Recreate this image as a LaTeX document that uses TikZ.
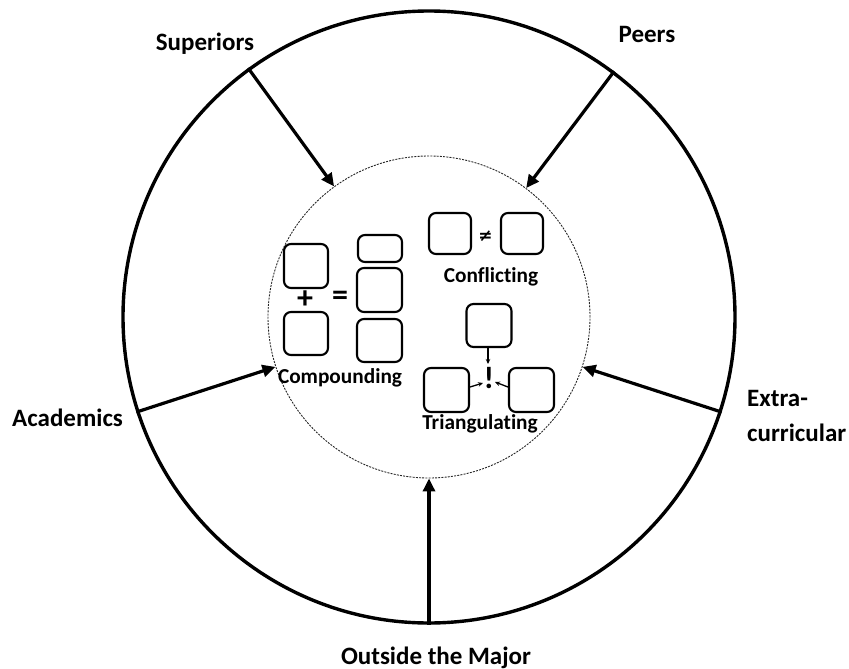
\documentclass[tikz,border=0pt]{standalone}
\usepackage{fontspec}
\setmainfont[Ligatures=NoCommon]{Carlito}
\newfontfamily\djv{DejaVu Sans}
\usetikzlibrary{arrows.meta,calc}
\begin{document}
\begin{tikzpicture}[x=1pt,y=-1pt,
  ring/.style={circle, draw, line width=3.4pt, inner sep=0pt, minimum size=612pt},
  core/.style={circle, draw=black!85, dash pattern=on 2pt off 1.2pt, line width=0.9pt, inner sep=0pt, minimum size=322pt},
  feed/.style={line width=3.2pt, -{Triangle[length=13pt,width=12pt]}},
  srcbox/.style={draw, line width=2.1pt, rounded corners=7pt, inner sep=0pt, minimum width=44pt, minimum height=44pt},
  lbl/.style={font=\fontsize{25}{35}\selectfont\bfseries, inner sep=0pt},
  ilbl/.style={font=\fontsize{21.3}{24}\selectfont\bfseries, inner sep=0pt},
  sym/.style={font=\fontsize{32}{32}\selectfont\bfseries, inner sep=0pt},
  tinyarrow/.style={line width=1.3pt, -{Stealth[length=5pt,width=4.5pt]}}
]
\useasboundingbox (0,0) rectangle (849,669);

% circles
\node[ring] (outer) at (429,317) {};
\node[core] (inner) at (429,317) {};

% feeding arrows
\draw[feed] (outer.126) -- (inner.126);
\draw[feed] (outer.53.5) -- (inner.53.5);
\draw[feed] (outer.198.5) -- (inner.198.5);
\draw[feed] (outer.-18) -- (inner.-18);
\draw[feed] (outer.270) -- (inner.270);

% outer labels
\node[lbl, anchor=base] (sup) at (205,51) {Superiors};
\node[lbl, anchor=base] (peers) at (647,43) {Peers};
\node[lbl, anchor=base west] (acad) at (12,426) {Academics};
\node[lbl, anchor=base west, align=left] (extra) at (747,441) {Extra-\\curricular};
\node[lbl, anchor=base] (outside) at (436,664) {Outside the Major};

% compounding
\node[srcbox] (cl1) at (306,266) {};
\node[srcbox, minimum height=43pt] (cl2) at (306,333.5) {};
\node[srcbox, minimum height=27pt] (cr1) at (380,248.5) {};
\node[srcbox, minimum width=45pt] (cr2) at (379.5,290) {};
\node[srcbox, minimum width=45pt, minimum height=43pt] (cr3) at (379.5,340.5) {};
\node[sym] (plus) at (305,300) {+};
\node[sym] (eq) at (340,298) {=};
\node[ilbl, anchor=base] (comp) at (340,383) {Compounding};

% conflicting
\node[srcbox, minimum width=42pt, minimum height=41pt] (f1) at (450,233.5) {};
\node[srcbox, minimum width=42pt, minimum height=41pt] (f2) at (522,233.5) {};
\node[font=\djv\bfseries\fontsize{17}{17}\selectfont, inner sep=0pt] (neq) at (485.5,236) {≠};
\node[ilbl, anchor=base] (conf) at (491,282) {Conflicting};

% triangulating
\node[srcbox, minimum width=45pt, minimum height=43pt] (t1) at (489,325.5) {};
\node[srcbox, minimum width=45pt, minimum height=44pt] (t2) at (446.5,390) {};
\node[srcbox, minimum width=45pt, minimum height=44pt] (t3) at (531.5,390) {};
\node[font=\fontsize{31}{31}\selectfont\bfseries, inner sep=0pt] (bang) at (489,378) {!};
\coordinate (bt) at (488,364);
\coordinate (bl) at (483,383);
\coordinate (br) at (495,382);
\draw[tinyarrow] (t1.south -| bt) -- (bt);
\draw[tinyarrow] ($(t2.east)+(0,-3)$) -- (bl);
\draw[tinyarrow] ($(t3.west)+(0,-3)$) -- (br);
\node[ilbl, anchor=base] (tri) at (480,429) {Triangulating};
\end{tikzpicture}
\end{document}
